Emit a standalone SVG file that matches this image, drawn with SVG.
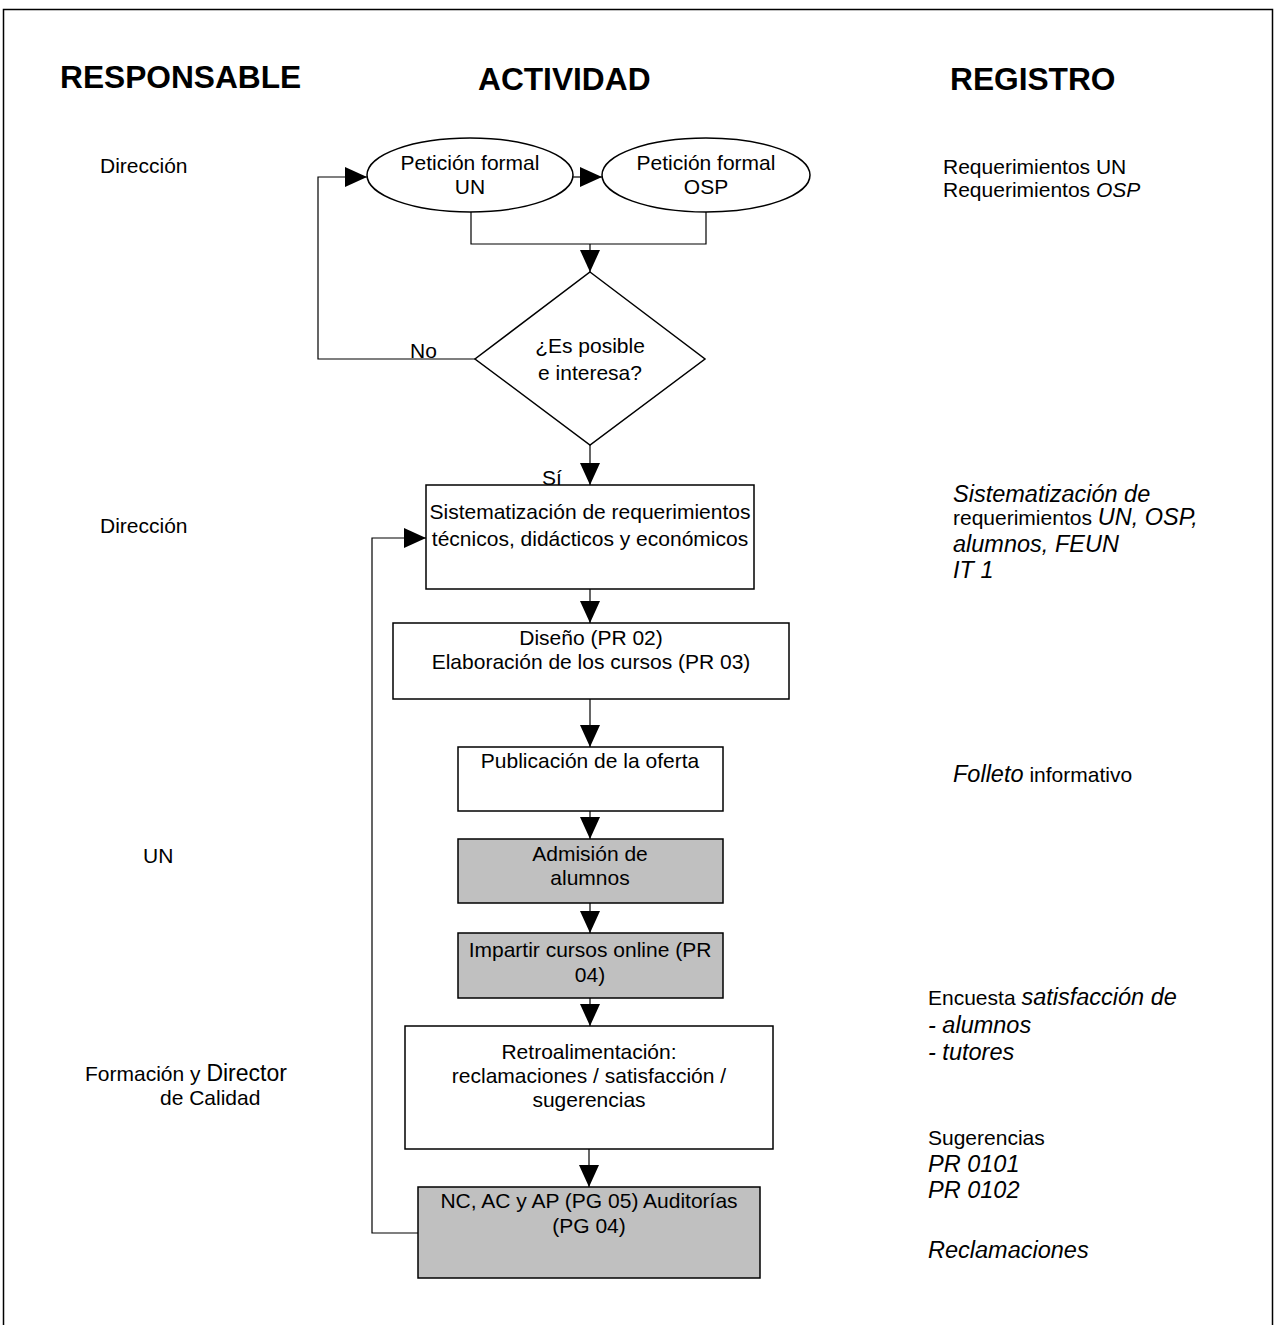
<svg xmlns="http://www.w3.org/2000/svg" width="1275" height="1325" viewBox="0 0 1275 1325">
<style>
text{font-family:"Liberation Sans",Arial,sans-serif;fill:#000}
.h{font-size:31.7px;font-weight:bold}
.t{font-size:21px}
.c{text-anchor:middle}
.i{font-style:italic;font-size:23.5px}
.box{fill:#fff;stroke:#000;stroke-width:1.5}
.gray{fill:#c0c0c0;stroke:#000;stroke-width:1.5}
.ln{fill:none;stroke:#000;stroke-width:1.2}
</style>
<defs>
<marker id="ah" markerUnits="userSpaceOnUse" markerWidth="22" markerHeight="20" refX="22" refY="10" orient="auto">
<path d="M0,0 L22,10 L0,20 z" fill="#000"/>
</marker>
</defs>
<rect width="1275" height="1325" fill="#fff"/>
<path d="M3.5,1325 V9.5 H1272.5 V1325" fill="none" stroke="#000" stroke-width="1.5"/>
<g id="headers">
<text class="h" x="60" y="88">RESPONSABLE</text>
<text class="h" x="478" y="90">ACTIVIDAD</text>
<text class="h" x="950" y="90">REGISTRO</text>
</g>
<g id="responsables">
<text class="t" x="100" y="173">Dirección</text>
<text class="t" x="100" y="533">Dirección</text>
<text class="t" x="143" y="863">UN</text>
<text class="t" x="85" y="1081">Formación y <tspan font-size="23px">Director</tspan></text>
<text class="t" x="160" y="1105" font-size="20px">de Calidad</text>
</g>
<g id="connectors">
<path class="ln" d="M573,177 L602,177" marker-end="url(#ah)"/>
<path class="ln" d="M475,359 L318,359 L318,177 L367,177" marker-end="url(#ah)"/>
<path class="ln" d="M471,212 L471,244 L706,244 L706,212"/>
<path class="ln" d="M590,244 L590,272" marker-end="url(#ah)"/>
<path class="ln" d="M590,445 L590,485" marker-end="url(#ah)"/>
<path class="ln" d="M590,589 L590,623" marker-end="url(#ah)"/>
<path class="ln" d="M590,699 L590,747" marker-end="url(#ah)"/>
<path class="ln" d="M590,811 L590,839" marker-end="url(#ah)"/>
<path class="ln" d="M590,903 L590,933" marker-end="url(#ah)"/>
<path class="ln" d="M590,998 L590,1026" marker-end="url(#ah)"/>
<path class="ln" d="M589,1149 L589,1187" marker-end="url(#ah)"/>
<path class="ln" d="M418,1233 L372,1233 L372,538 L426,538" marker-end="url(#ah)"/>
<text class="t" x="410" y="358">No</text>
<text class="t" x="542" y="485">Sí</text>
</g>
<g id="peticion-un">
<ellipse class="box" cx="470" cy="175" rx="103" ry="37" stroke-width="1.2"/>
<text class="t c" x="470" y="170">Petición formal</text>
<text class="t c" x="470" y="194">UN</text>
</g>
<g id="peticion-osp">
<ellipse class="box" cx="706" cy="175" rx="104" ry="37" stroke-width="1.2"/>
<text class="t c" x="706" y="170">Petición formal</text>
<text class="t c" x="706" y="194">OSP</text>
</g>
<g id="decision">
<polygon class="box" points="590,272 705,359 590,445 475,359" stroke-width="1.2"/>
<text class="t c" x="590" y="353">¿Es posible</text>
<text class="t c" x="590" y="380">e interesa?</text>
</g>
<g id="sistematizacion">
<rect class="box" x="426" y="485" width="328" height="104"/>
<text class="t c" x="590" y="519">Sistematización de requerimientos</text>
<text class="t c" x="590" y="546">técnicos, didácticos y económicos</text>
</g>
<g id="diseno">
<rect class="box" x="393" y="623" width="396" height="76"/>
<text class="t c" x="591" y="645">Diseño (PR 02)</text>
<text class="t c" x="591" y="669">Elaboración de los cursos (PR 03)</text>
</g>
<g id="publicacion">
<rect class="box" x="458" y="747" width="265" height="64"/>
<text class="t c" x="590" y="768">Publicación de la oferta</text>
</g>
<g id="admision">
<rect class="gray" x="458" y="839" width="265" height="64"/>
<text class="t c" x="590" y="861">Admisión de</text>
<text class="t c" x="590" y="885">alumnos</text>
</g>
<g id="impartir">
<rect class="gray" x="458" y="933" width="265" height="65"/>
<text class="t c" x="590" y="957">Impartir cursos online (PR</text>
<text class="t c" x="590" y="982">04)</text>
</g>
<g id="retroalimentacion">
<rect class="box" x="405" y="1026" width="368" height="123"/>
<text class="t c" x="589" y="1059">Retroalimentación:</text>
<text class="t c" x="589" y="1083">reclamaciones / satisfacción /</text>
<text class="t c" x="589" y="1107">sugerencias</text>
</g>
<g id="nc-auditorias">
<rect class="gray" x="418" y="1187" width="342" height="91"/>
<text class="t c" x="589" y="1208">NC, AC y AP (PG 05) Auditorías</text>
<text class="t c" x="589" y="1233">(PG 04)</text>
</g>
<g id="registros">
<text class="t" x="943" y="174">Requerimientos UN</text>
<text class="t" x="943" y="197">Requerimientos <tspan font-style="italic">OSP</tspan></text>
<text class="i" x="953" y="502">Sistematización de</text>
<text class="t" x="953" y="525">requerimientos <tspan class="i">UN, OSP,</tspan></text>
<text class="i" x="953" y="552">alumnos, FEUN</text>
<text class="i" x="953" y="578">IT 1</text>
<text class="t" x="953" y="782"><tspan class="i">Folleto</tspan> informativo</text>
<text class="t" x="928" y="1005">Encuesta <tspan class="i">satisfacción de</tspan></text>
<text class="i" x="928" y="1033">- alumnos</text>
<text class="i" x="928" y="1060">- tutores</text>
<text class="t" x="928" y="1145">Sugerencias</text>
<text class="i" x="928" y="1172">PR 0101</text>
<text class="i" x="928" y="1198">PR 0102</text>
<text class="i" x="928" y="1258">Reclamaciones</text>
</g>
</svg>
